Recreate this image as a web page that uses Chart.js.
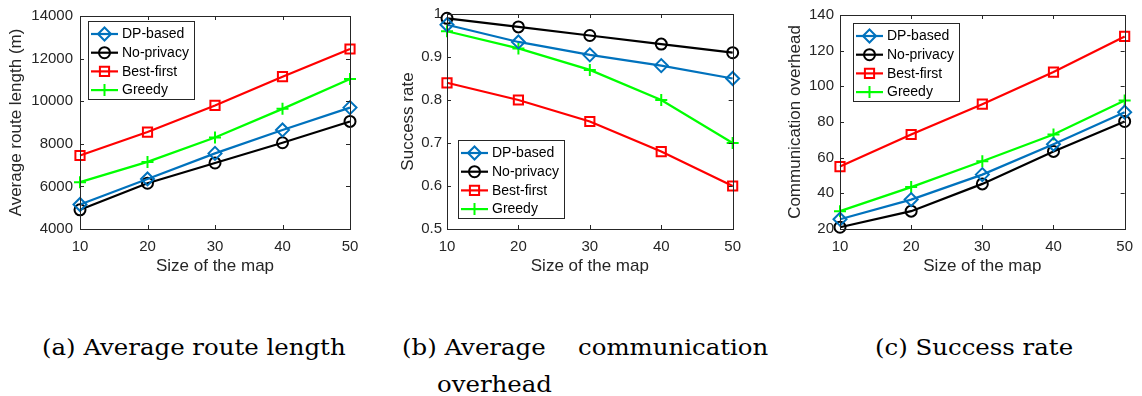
<!DOCTYPE html>
<html>
<head>
<meta charset="utf-8">
<script src="https://cdn.jsdelivr.net/npm/chart.js@4.4.1/dist/chart.umd.min.js"></script>
<style>
  body { margin: 0; background: #fff; width: 1142px; height: 396px; position: relative; overflow: hidden; }
  canvas { position: absolute; top: 0; }
  .cap { position: absolute; font-family: "DejaVu Serif", "Liberation Serif", serif; font-size: 22px; color: #000; white-space: nowrap; line-height: 1; transform: scaleX(1.11); transform-origin: 0 0; }
</style>
</head>
<body>
<canvas id="routeChart" width="370" height="290" style="left:0px"></canvas>
<canvas id="successChart" width="380" height="290" style="left:370px"></canvas>
<canvas id="overheadChart" width="392" height="290" style="left:750px"></canvas>

<div class="cap" style="left:42px; top:337px">(a) Average route length</div>
<div class="cap" style="left:402px; top:337px">(b) Average</div>
<div class="cap" style="left:578px; top:337px">communication</div>
<div class="cap" style="left:437px; top:374px">overhead</div>
<div class="cap" style="left:875px; top:337px">(c) Success rate</div>

<script>
// x values shared by all three panels
const mapSizes = [10, 20, 30, 40, 50];
const seriesNames = ['DP-based', 'No-privacy', 'Best-first', 'Greedy'];

// (a) average route length (m)
const routeDP = [5150, 6350, 7550, 8650, 9700];
const routeNoPrivacy = [4900, 6150, 7100, 8050, 9050];
const routeBestFirst = [7450, 8550, 9800, 11150, 12450];
const routeGreedy = [6200, 7150, 8300, 9640, 11040];
const routeTicks = [4000, 6000, 8000, 10000, 12000, 14000];

// (b) success rate
const successDP = [0.975, 0.935, 0.905, 0.88, 0.85];
const successNoPrivacy = [0.99, 0.97, 0.95, 0.93, 0.91];
const successBestFirst = [0.84, 0.80, 0.75, 0.68, 0.60];
const successGreedy = [0.96, 0.92, 0.87, 0.80, 0.70];
const successTicks = [0.5, 0.6, 0.7, 0.8, 0.9, 1];

// (c) communication overhead
const overheadDP = [25.5, 36.5, 50.5, 67.5, 85.5];
const overheadNoPrivacy = [21, 30, 45.3, 63.5, 80.3];
const overheadBestFirst = [55, 73, 90, 108, 128];
const overheadGreedy = [30, 43.5, 58, 73, 92];
const overheadTicks = [20, 40, 60, 80, 100, 120, 140];

const xTicks = [10, 20, 30, 40, 50];

const AXIS_COLOR = '#262626';
const SANS = "'Liberation Sans', Arial, Helvetica, sans-serif";

const styles = [
    { color: '#0072BD', pointStyle: 'rectRot', radius: 6.5 },
    { color: '#000000', pointStyle: 'circle', radius: 5.5 },
    { color: '#FF0000', pointStyle: 'rect', radius: 6.5 },
    { color: '#00FF00', pointStyle: 'cross', radius: 6 }
];

function toPoints(values) {
    return values.map((v, i) => ({ x: mapSizes[i], y: v }));
}

function makeDatasets(seriesList) {
    return seriesList.map((values, i) => ({
        label: seriesNames[i],
        data: toPoints(values),
        borderColor: styles[i].color,
        backgroundColor: 'rgba(0,0,0,0)',
        pointBorderColor: styles[i].color,
        pointBackgroundColor: 'rgba(0,0,0,0)',
        pointStyle: styles[i].pointStyle,
        pointRadius: styles[i].radius,
        pointHoverRadius: styles[i].radius,
        pointBorderWidth: 2,
        borderWidth: 2.2,
        tension: 0,
        clip: false
    }));
}

// MATLAB-style box, inward ticks on all four sides and a boxed legend
const matlabAxes = {
    id: 'matlabAxes',
    afterDraw(chart, args, opts) {
        const ctx = chart.ctx;
        const ca = chart.chartArea;
        const xs = chart.scales.x;
        const ys = chart.scales.y;
        ctx.save();
        ctx.strokeStyle = AXIS_COLOR;
        ctx.lineWidth = 1;
        ctx.strokeRect(Math.round(ca.left) + 0.5, Math.round(ca.top) + 0.5,
            Math.round(ca.right - ca.left), Math.round(ca.bottom - ca.top));
        ctx.beginPath();
        xs.ticks.forEach(t => {
            const px = Math.round(xs.getPixelForValue(t.value)) + 0.5;
            ctx.moveTo(px, ca.bottom); ctx.lineTo(px, ca.bottom - 4);
            ctx.moveTo(px, ca.top); ctx.lineTo(px, ca.top + 4);
        });
        ys.ticks.forEach(t => {
            const py = Math.round(ys.getPixelForValue(t.value)) + 0.5;
            ctx.moveTo(ca.left, py); ctx.lineTo(ca.left + 4, py);
            ctx.moveTo(ca.right, py); ctx.lineTo(ca.right - 4, py);
        });
        ctx.stroke();

        // legend
        ctx.font = '14px ' + SANS;
        const names = chart.data.datasets.map(d => d.label);
        const textW = Math.max(...names.map(n => ctx.measureText(n).width));
        const rowH = 18.7;
        const boxW = Math.round(34 + textW + 5);
        const boxH = Math.round(13 + rowH * (names.length - 1) + 9);
        const bx = Math.round(ca.left + opts.dx);
        const by = opts.corner === 'sw' ? Math.round(ca.bottom - opts.dy - boxH) : Math.round(ca.top + opts.dy);
        ctx.fillStyle = '#ffffff';
        ctx.fillRect(bx, by, boxW, boxH);
        ctx.strokeStyle = AXIS_COLOR;
        ctx.lineWidth = 1;
        ctx.strokeRect(bx + 0.5, by + 0.5, boxW, boxH);
        chart.data.datasets.forEach((ds, i) => {
            const cy = by + 13 + i * rowH;
            ctx.strokeStyle = ds.borderColor;
            ctx.lineWidth = 2.2;
            ctx.beginPath();
            ctx.moveTo(bx + 3, cy); ctx.lineTo(bx + 30, cy);
            ctx.stroke();
            ctx.lineWidth = 2;
            ctx.fillStyle = 'rgba(0,0,0,0)';
            Chart.helpers.drawPoint(ctx, {
                pointStyle: ds.pointStyle, rotation: 0, radius: ds.pointRadius, borderWidth: 2
            }, bx + 16.5, cy);
            ctx.fillStyle = '#000000';
            ctx.textBaseline = 'middle';
            ctx.textAlign = 'left';
            ctx.fillText(ds.label, bx + 34, cy + 0.5);
        });
        ctx.restore();
    }
};

function createPanel(canvasId, seriesList, yTicks, yTitle, layout) {
    const ctx = document.getElementById(canvasId).getContext('2d');
    return new Chart(ctx, {
        type: 'line',
        data: { datasets: makeDatasets(seriesList) },
        plugins: [matlabAxes],
        options: {
            responsive: false,
            animation: false,
            events: [],
            layout: { padding: layout.padding },
            plugins: {
                legend: { display: false },
                tooltip: { enabled: false },
                matlabAxes: layout.legend
            },
            scales: {
                x: {
                    type: 'linear',
                    min: xTicks[0],
                    max: xTicks[xTicks.length - 1],
                    afterBuildTicks: s => { s.ticks = xTicks.map(v => ({ value: v })); },
                    afterFit: s => { s.height = 48; },
                    grid: { display: false, drawTicks: false },
                    border: { display: false },
                    ticks: {
                        color: AXIS_COLOR, padding: 9, maxRotation: 0,
                        font: { family: SANS, size: 15 },
                        callback: v => String(v)
                    },
                    title: {
                        display: true, text: 'Size of the map', color: AXIS_COLOR,
                        font: { family: SANS, size: 17 }, padding: { top: 2, bottom: 0 }
                    }
                },
                y: {
                    type: 'linear',
                    min: yTicks[0],
                    max: yTicks[yTicks.length - 1],
                    afterBuildTicks: s => { s.ticks = yTicks.map(v => ({ value: v })); },
                    afterFit: s => { s.width = layout.yWidth; },
                    grid: { display: false, drawTicks: false },
                    border: { display: false },
                    ticks: {
                        color: AXIS_COLOR, padding: layout.tickPad,
                        font: { family: SANS, size: 15 },
                        callback: v => String(+v.toFixed(2))
                    },
                    title: {
                        display: true, text: yTitle, color: AXIS_COLOR,
                        font: { family: SANS, size: 17 }, padding: { top: 2, bottom: 0 }
                    }
                }
            }
        }
    });
}

createPanel('routeChart',
    [routeDP, routeNoPrivacy, routeBestFirst, routeGreedy],
    routeTicks, 'Average route length (m)', {
        padding: { left: 4, right: 20, top: 14, bottom: 13 },
        yWidth: 76, tickPad: 7,
        legend: { corner: 'nw', dx: 8, dy: 5 }
    });

createPanel('successChart',
    [successDP, successNoPrivacy, successBestFirst, successGreedy],
    successTicks, 'Success rate', {
        padding: { left: 26, right: 12, top: 13, bottom: 13 },
        yWidth: 51, tickPad: 5,
        legend: { corner: 'sw', dx: 11, dy: 11 }
    });

createPanel('overheadChart',
    [overheadDP, overheadNoPrivacy, overheadBestFirst, overheadGreedy],
    overheadTicks, 'Communication overhead', {
        padding: { left: 33, right: 14, top: 14, bottom: 13 },
        yWidth: 57, tickPad: 6,
        legend: { corner: 'nw', dx: 13, dy: 8 }
    });
</script>
</body>
</html>
